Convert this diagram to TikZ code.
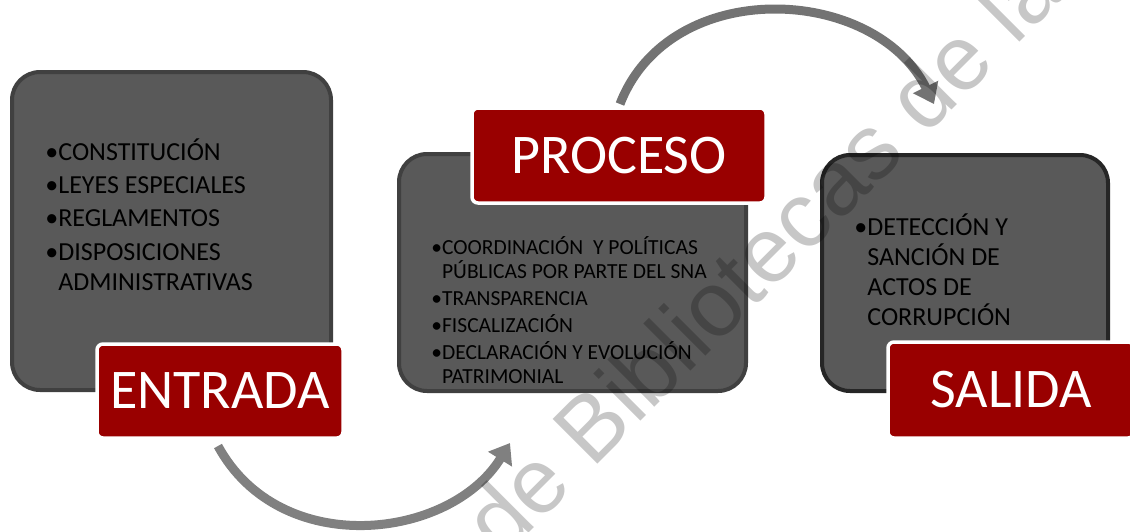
\documentclass[tikz,border=0pt]{standalone}
\usepackage{fontspec}
\setmainfont{Carlito}
\newfontfamily\wmfont{Liberation Sans}
\usetikzlibrary{arrows.meta}

\definecolor{boxgray}{RGB}{89,89,89}
\definecolor{boxline}{RGB}{64,64,64}
\definecolor{lblred}{RGB}{153,0,0}
\definecolor{arrgray}{RGB}{128,128,128}

\newcommand{\itm}{\makebox[0.5em][l]{\textbullet}}
\newcommand{\hng}{\hspace*{0.5em}}

\tikzset{every picture/.style={line width=0.75pt}}

\begin{document}
\begin{tikzpicture}[x=1pt,y=1pt,yscale=-1,xscale=1,
	stagebox/.style={draw=boxline, line width=4pt, fill=boxgray, rounded corners=28pt, inner sep=0pt},
	stagelabel/.style={draw=white, line width=3.5pt, fill=lblred, rounded corners=6pt, text=white, font=\fontsize{56}{60}\selectfont, inner sep=0pt},
	stagetext/.style={anchor=base west, align=left, inner sep=0pt, text=black},
	cyclearrow/.style={draw=arrgray, line width=9pt, -{Triangle[width=27pt,length=19pt]}}]
	\useasboundingbox (0,0) rectangle (1130,531);

	%Shape: Rounded Rect [entrada]
	\node [stagebox, minimum width=319, minimum height=318] (boxin) at (171.5,231) {};
	%Shape: Rounded Rect [proceso]
	\node [stagebox, minimum width=347, minimum height=237] (boxproc) at (572.5,272.5) {};
	%Shape: Rounded Rect [salida]
	\node [stagebox, draw=black!85, minimum width=286, minimum height=236] (boxout) at (965,273) {};

	%Curved Arrows
	\coordinate (a1s) at (218,446);
	\coordinate (a1e) at (510,443);
	\draw [cyclearrow] (a1s) .. controls (280,560) and (450,540) .. (a1e);
	\coordinate (a2s) at (620,104);
	\coordinate (a2e) at (934,104);
	\draw [cyclearrow, draw=black!55] (a2s) .. controls (670,-25) and (875,-15) .. (a2e);

	% Text Node (anchored at the last line)
	\node [stagetext, font=\fontsize{26}{30}\selectfont] (txtin) at (45,290) {\itm CONSTITUCIÓN\\[3.3pt]
		\itm LEYES ESPECIALES\\[3.3pt]
		\itm REGLAMENTOS\\[3.3pt]
		\itm DISPOSICIONES\\
		\hng ADMINISTRATIVAS};
	% Text Node
	\node [stagetext, font=\fontsize{21.5}{24}\selectfont] (txtproc) at (431,383.5) {\itm COORDINACIÓN~ Y POLÍTICAS\\
		\hng PÚBLICAS POR PARTE DEL SNA\\[3pt]
		\itm TRANSPARENCIA\\[3pt]
		\itm FISCALIZACIÓN\\[3pt]
		\itm DECLARACIÓN Y EVOLUCIÓN\\
		\hng PATRIMONIAL};
	% Text Node
	\node [stagetext, font=\fontsize{26}{30}\selectfont] (txtout) at (854,325) {\itm DETECCIÓN Y\\
		\hng SANCIÓN DE\\
		\hng ACTOS DE\\
		\hng CORRUPCIÓN};

	%Shape: Labels
	\node [stagelabel, minimum width=246, minimum height=94] (lblin) at (220,391) {ENTRADA};
	\node [stagelabel, minimum width=294, minimum height=95] (lblproc) at (619,155.5) {PROCESO};
	\node [stagelabel, minimum width=246, minimum height=96] (lblout) at (1011,390) {SALIDA};

	% Watermark
	\node [anchor=base west, rotate=45, inner sep=0pt, text=black, text opacity=0.22, font=\wmfont\fontsize{92}{92}\selectfont] (marca) at (502,560) {de Bibliotecas de la};

\end{tikzpicture}
\end{document}
